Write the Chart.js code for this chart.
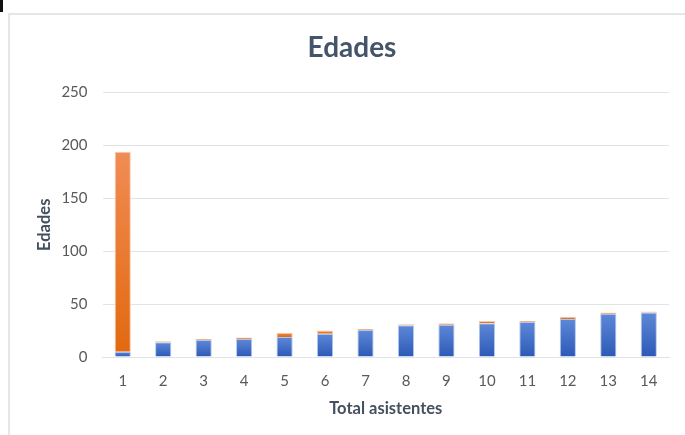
<!DOCTYPE html>
<html>
<head>
<meta charset="utf-8">
<script src="https://cdn.jsdelivr.net/npm/chart.js@4/dist/chart.umd.min.js"></script>
<style>
  html, body { margin: 0; padding: 0; width: 685px; height: 435px; overflow: hidden; background: #fff; }
  #frame { position: absolute; left: 8px; top: 13px; width: 700px; height: 440px; border-left: 2px solid #E3E7EC; border-top: 2px solid #E3E7EC; box-sizing: border-box; }
  #mark { position: absolute; left: 0; top: 0; width: 3px; height: 12px; background: #111; }
  #wrap { position: absolute; left: 35px; top: 13px; width: 650px; height: 422px; }
</style>
</head>
<body>
<div id="mark"></div>
<div id="frame"></div>
<div id="wrap"><canvas id="c"></canvas></div>
<script>
const categories = ['1','2','3','4','5','6','7','8','9','10','11','12','13','14'];
const serieAzul = [5, 14, 16, 17, 19, 22, 25.5, 30, 30.5, 32, 33, 36, 41, 42];
const serieNaranja = [189, 1, 1, 1.5, 4, 3, 1, 1, 1.5, 2, 1, 2, 1, 1];
const yTicks = [0, 50, 100, 150, 200, 250];

function barGradient(ctx, lowerArr, valArr, topColor, bottomColor) {
  const chart = ctx.chart;
  const y = chart.scales && chart.scales.y;
  if (!chart.chartArea || !y || ctx.dataIndex === undefined) return bottomColor;
  const i = ctx.dataIndex;
  const base = lowerArr ? lowerArr[i] : 0;
  const top = base + valArr[i];
  const y0 = y.getPixelForValue(base);
  const y1 = y.getPixelForValue(top);
  if (!isFinite(y0) || !isFinite(y1) || y0 === y1) return bottomColor;
  const g = chart.ctx.createLinearGradient(0, y1, 0, y0);
  g.addColorStop(0, topColor);
  g.addColorStop(1, bottomColor);
  return g;
}

const textColor = '#595959';
const titleColor = '#44505F';
new Chart(document.getElementById('c'), {
  type: 'bar',
  data: {
    labels: categories,
    datasets: [
      {
        label: 'Serie1',
        data: serieAzul,
        backgroundColor: (ctx) => barGradient(ctx, null, serieAzul, '#5E88D8', '#2C59B6'),
        borderColor: 'rgba(170,192,235,0.9)',
        borderWidth: 1,
        barPercentage: 0.4,
        categoryPercentage: 1.0
      },
      {
        label: 'Serie2',
        data: serieNaranja,
        backgroundColor: (ctx) => barGradient(ctx, serieAzul, serieNaranja, '#F08C55', '#E2690F'),
        borderColor: 'rgba(248,196,160,0.9)',
        borderWidth: 1,
        barPercentage: 0.4,
        categoryPercentage: 1.0
      }
    ]
  },
  options: {
    responsive: true,
    maintainAspectRatio: false,
    animation: false,
    layout: { padding: { left: 0, right: 16, top: 0, bottom: 0 } },
    plugins: {
      legend: { display: false },
      tooltip: { enabled: false },
      title: {
        display: true,
        text: 'Edades',
        color: '#44546A',
        font: { family: 'Lato', size: 28, weight: 'bold' },
        padding: { top: 18, bottom: 28 }
      }
    },
    scales: {
      x: {
        stacked: true,
        grid: { display: false, drawTicks: false },
        border: { display: true, color: '#E0E3E8', width: 1 },
        ticks: { color: textColor, font: { family: 'Lato', size: 15 }, padding: 15, maxRotation: 0 },
        title: { display: true, text: 'Total asistentes', color: titleColor, font: { family: 'Lato', size: 16.5, weight: 'bold' }, padding: { top: 2, bottom: 16 } },
        afterFit: (s) => { s.height = 78; }
      },
      y: {
        stacked: true,
        min: 0,
        max: 250,
        afterBuildTicks: (s) => { s.ticks = yTicks.map(v => ({ value: v })); },
        grid: { color: '#E0E3E8', lineWidth: 1, drawTicks: false },
        border: { display: false },
        ticks: { color: textColor, font: { family: 'Lato', size: 15 }, padding: 15 },
        title: { display: true, text: 'Edades', color: titleColor, font: { family: 'Lato', size: 16.5, weight: 'bold' }, padding: { top: 0, bottom: 0 } },
        afterFit: (s) => { s.width = 67.5; }
      }
    }
  }
});
</script>
</body>
</html>
